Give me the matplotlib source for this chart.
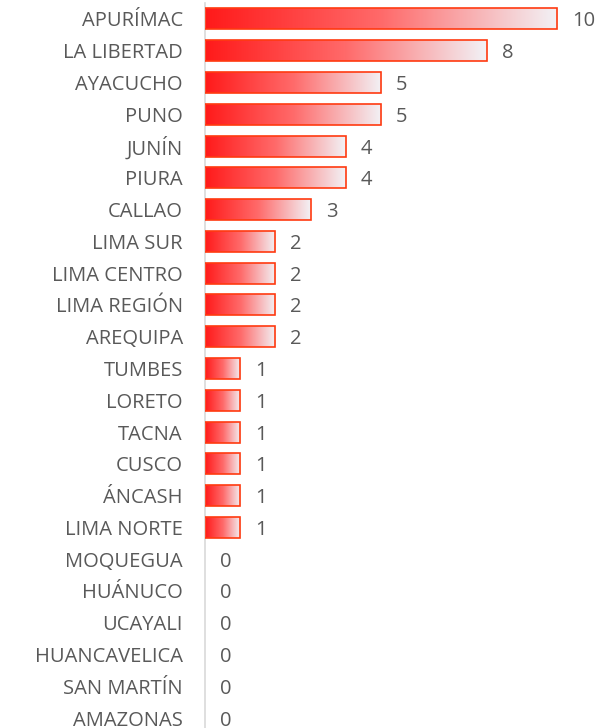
import numpy as np
import matplotlib
matplotlib.use("Agg")
import matplotlib.pyplot as plt
from matplotlib.colors import LinearSegmentedColormap

# Datos: casos por región
regiones = ["APURÍMAC", "LA LIBERTAD", "AYACUCHO", "PUNO", "JUNÍN", "PIURA",
            "CALLAO", "LIMA SUR", "LIMA CENTRO", "LIMA REGIÓN", "AREQUIPA",
            "TUMBES", "LORETO", "TACNA", "CUSCO", "ÁNCASH", "LIMA NORTE",
            "MOQUEGUA", "HUÁNUCO", "UCAYALI", "HUANCAVELICA", "SAN MARTÍN",
            "AMAZONAS"]
casos = [10, 8, 5, 5, 4, 4, 3, 2, 2, 2, 2, 1, 1, 1, 1, 1, 1, 0, 0, 0, 0, 0, 0]

plt.rcParams['font.family'] = ['Open Sans', 'DejaVu Sans']
color_texto = "#595959"
degradado = LinearSegmentedColormap.from_list("rojo_blanco", ["#FF1A1A", "#FF6A6A", "#F2F2F6"])

fig = plt.figure(figsize=(6.13, 7.28), dpi=100)
ax = fig.add_axes([205 / 613, -6 / 728, 395 / 613, 731 / 728])

n = len(regiones)
y = np.arange(n)
alto = 0.66
grad = np.linspace(0, 1, 256).reshape(1, -1)

for yi, v in zip(y, casos):
    if v > 0:
        barra = ax.barh(yi, v, height=alto, color="none", edgecolor="#FF3A10",
                        linewidth=1.2, zorder=3)[0]
        img = ax.imshow(grad, cmap=degradado, aspect="auto",
                        extent=(0, v, yi + alto / 2, yi - alto / 2), zorder=2)
        img.set_clip_path(barra)
    ax.annotate(str(v), (v, yi), xytext=(15, 0), textcoords="offset pixels",
                va="center_baseline", ha="left", fontsize=14.5, color=color_texto)

ax.set_xlim(0, 11.22)
ax.set_ylim(n - 0.5, -0.5)
ax.set_yticks(y)
ax.set_yticklabels(regiones, fontsize=14.5, color=color_texto, va="center_baseline")
ax.tick_params(axis="y", length=0, pad=16)
ax.set_xticks([])
for lado in ["top", "right", "bottom"]:
    ax.spines[lado].set_visible(False)
ax.spines["left"].set_color("#D9D9D9")
ax.spines["left"].set_linewidth(1.2)

fig.savefig("out.png", dpi=100)
